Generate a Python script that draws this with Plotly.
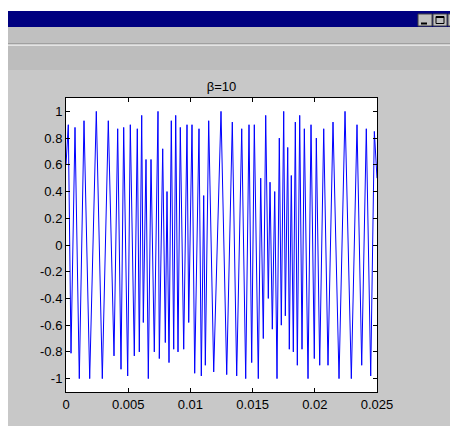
import plotly.graph_objects as go

title_text = "β=10"
t_vals = [0.0, 0.000185, 0.000402, 0.000724, 0.001069, 0.001447, 0.001905, 0.002436,
          0.002918, 0.0034, 0.003859, 0.004156, 0.004421, 0.004638, 0.00496, 0.005169,
          0.005491, 0.005732, 0.005893, 0.006086, 0.006214, 0.006431, 0.006616, 0.006833,
          0.007099, 0.007396, 0.007501, 0.007774, 0.007983, 0.008119, 0.00828, 0.008465,
          0.008658, 0.008819, 0.009003, 0.009189, 0.009462, 0.009727, 0.009864, 0.010129,
          0.010346, 0.010692, 0.010877, 0.01107, 0.011199, 0.011471, 0.011874, 0.01246,
          0.012919, 0.013369, 0.013722, 0.014125, 0.014446, 0.014711, 0.014928, 0.015137,
          0.015459, 0.015652, 0.015861, 0.016054, 0.016263, 0.0164, 0.016585, 0.016778,
          0.016962, 0.017147, 0.017308, 0.017501, 0.01763, 0.017823, 0.017951, 0.018112,
          0.018273, 0.018434, 0.018595, 0.018787, 0.018972, 0.019158, 0.019455, 0.019696,
          0.019961, 0.020122, 0.020395, 0.020717, 0.021062, 0.021464, 0.021947, 0.022429,
          0.022936, 0.023392, 0.023771, 0.024141, 0.024494, 0.024785, 0.025]
y_vals = [0.6, 0.9, -0.81, 0.88, -1.0, 0.93, -1.0, 1.0,
          -1.0, 0.93, -0.83, 0.87, -0.93, 0.88, -0.98, 0.9,
          -0.83, 0.87, -0.8, 0.97, -0.58, 0.64, -1.0, 0.64,
          -0.8, 1.0, -0.85, 0.72, -0.73, 0.4, -0.88, 0.93,
          -0.78, 0.97, -0.8, 0.88, -0.78, 0.9, -0.58, 0.9,
          -0.96, 0.87, -0.98, 0.37, -0.9, 0.93, -0.95, 1.0,
          -0.97, 0.92, -0.98, 0.87, -1.0, 0.9, -0.88, 0.9,
          -1.0, 0.5, -0.7, 0.97, -0.4, 0.47, -0.63, 0.4,
          -1.0, 0.8, -0.6, 1.0, -0.53, 0.73, -0.78, 0.52,
          -0.8, 0.92, -0.9, 0.97, -0.78, 0.87, -1.0, 0.9,
          -0.85, 0.8, -0.9, 0.87, -0.9, 0.92, -1.0, 1.0,
          -1.0, 0.9, -0.9, 0.87, -0.98, 0.85, 0.5]
x_ticks = [0, 0.005, 0.01, 0.015, 0.02, 0.025]
x_tick_labels = ["0", "0.005", "0.01", "0.015", "0.02", "0.025"]
y_ticks = [-1, -0.8, -0.6, -0.4, -0.2, 0, 0.2, 0.4, 0.6, 0.8, 1]
y_tick_labels = ["-1", "-0.8", "-0.6", "-0.4", "-0.2", "0", "0.2", "0.4", "0.6", "0.8", "1"]

W, H = 458, 426
L, R, T, B = 58, 369, 90, 384  # plot area in figure pixels (page has an 8px body margin)


def px(x):
    return (x - L) / (R - L)


def py(y):
    return (B - y) / (B - T)


fig = go.Figure()
fig.add_trace(go.Scatter(x=t_vals, y=y_vals, mode="lines",
                         line=dict(color="#0000FF", width=1),
                         hoverinfo="skip", showlegend=False))

shapes = []


def rect(x0, y0, x1, y1, fill, line=None, lw=0):
    shapes.append(dict(type="rect", xref="paper", yref="paper",
                       x0=px(x0), x1=px(x1), y0=py(y1), y1=py(y0),
                       fillcolor=fill, line=dict(color=line or fill, width=lw),
                       layer="above"))


def seg(x0, y0, x1, y1, color, w=1):
    shapes.append(dict(type="line", xref="paper", yref="paper",
                       x0=px(x0), x1=px(x1), y0=py(y0), y1=py(y1),
                       line=dict(color=color, width=w), layer="above"))


# window chrome
rect(0, 0, W, 3, "#FFFFFF")
rect(0, 3, W, 19, "#000080")
rect(0, 19, W, 36, "#C0C0C0")
seg(0, 36, W, 36, "#808080")
seg(0, 37, W, 37, "#FFFFFF")
rect(0, 38, W, 62, "#BDBDBD")
# title-bar buttons
for bx0, bx1 in [(410, 424), (425, 439), (440, 454)]:
    rect(bx0, 6, bx1, 18, "#C0C0C0", "#404040", 1)
seg(413, 15.5, 419, 15.5, "#000000", 2)
rect(428, 8.5, 436, 15.5, "rgba(0,0,0,0)", "#000000", 1)
seg(428, 9, 436, 9, "#000000", 2)
seg(443, 8.5, 450, 15.5, "#000000", 1.5)
seg(443, 15.5, 450, 8.5, "#000000", 1.5)

font = dict(family="Liberation Sans, Arial", size=13, color="#000000")
axis_common = dict(showline=True, linecolor="#000000", linewidth=1, mirror="ticks",
                   ticks="inside", ticklen=4, tickcolor="#000000", showgrid=False,
                   zeroline=False, tickfont=font)

fig.update_layout(
    width=W, height=H,
    margin=dict(l=L, r=W - R, t=T, b=H - B, pad=0),
    paper_bgcolor="#C8C8C8",
    plot_bgcolor="#FFFFFF",
    shapes=shapes,
    title=dict(text=title_text, x=px((L + R) / 2), xref="paper", xanchor="center",
               y=1 - 78 / H, yanchor="middle", font=font),
    xaxis=dict(range=[0, 0.025], tickvals=x_ticks, ticktext=x_tick_labels, **axis_common),
    yaxis=dict(range=[-1.1, 1.1], tickvals=y_ticks, ticktext=y_tick_labels, **axis_common),
)

fig.write_html("out.html", config={"displayModeBar": False})
